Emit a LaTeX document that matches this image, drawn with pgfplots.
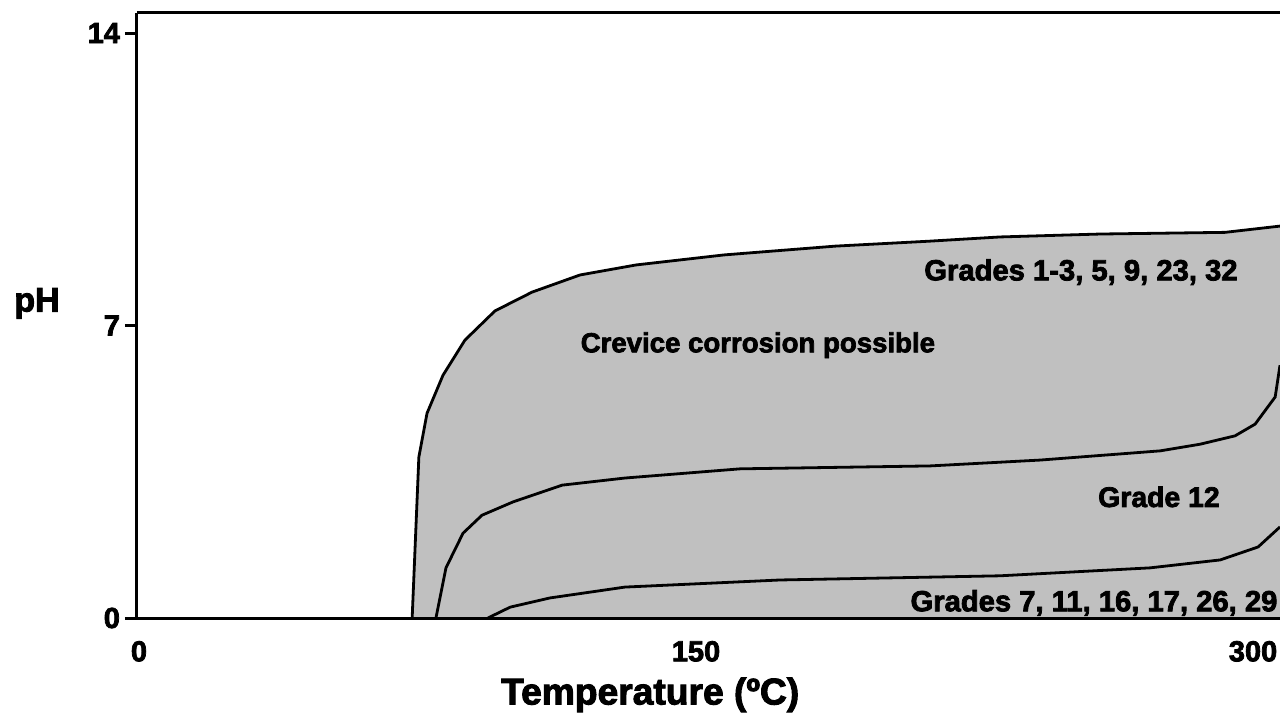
\documentclass[border=0pt]{standalone}
\usepackage{fontspec}
\setmainfont{Liberation Sans}[BoldFeatures={FakeBold=2.6}]
\usepackage{pgfplots}
\pgfplotsset{compat=1.18}
\definecolor{fillgray}{RGB}{192,192,192}
\begin{document}
\begin{tikzpicture}
\begin{axis}[
  name=ax,
  at={(0,0)}, anchor=south west,
  scale only axis,
  width=571.5pt, height=302.5pt,
  xmin=0, xmax=307.8, ymin=0, ymax=14.48,
  axis x line=box, axis y line=left,
  axis line style={-, line width=1.5pt, black},
  axis on top=true,
  clip=true,
  xtick={0,150,300}, ytick={0,7,14},
  xtick style={draw=none},
  ytick style={line width=1.5pt, black},
  tick align=outside,
  major tick length=6pt,
  /pgf/number format/assume math mode=true,
  ticklabel style={font=\fontsize{14.5}{16}\selectfont\bfseries},
  xticklabel style={yshift=-2pt, xshift=1pt},
  yticklabel style={xshift=1pt},
  xlabel={Temperature (ºC)},
  xlabel style={font=\fontsize{18.6}{20}\selectfont\bfseries, at={(axis description cs:0.449,-0.127)}, anchor=center},
  ylabel={pH},
  ylabel style={font=\fontsize{17}{18}\selectfont\bfseries, rotate=-90, at={(axis description cs:-0.0875,0.52)}, anchor=center},
]
% filled region under upper boundary
\addplot[fill=fillgray, draw=none] coordinates {
(74.1,0) (75.9,3.85) (78.1,4.90) (82.4,5.81) (88.3,6.65) (96.4,7.35)
(106.4,7.80) (119.3,8.21) (134.4,8.45) (158.1,8.69) (188.0,8.90)
(213.6,9.02) (232.4,9.12) (259.4,9.19) (293.0,9.23) (307.8,9.38) (307.8,0)
} -- cycle;
% Grades 1-3, 5, 9, 23, 32
\addplot[black, line width=1.4pt] coordinates {
(74.1,0) (75.9,3.85) (78.1,4.90) (82.4,5.81) (88.3,6.65) (96.4,7.35)
(106.4,7.80) (119.3,8.21) (134.4,8.45) (158.1,8.69) (188.0,8.90)
(213.6,9.02) (232.4,9.12) (259.4,9.19) (293.0,9.23) (307.8,9.38)
};
% Grade 12
\addplot[black, line width=1.4pt] coordinates {
(80.5,0) (83.2,1.20) (87.8,2.03) (92.9,2.46) (101.3,2.78) (114.5,3.18)
(131.4,3.35) (162.4,3.57) (213.6,3.64) (243.2,3.78) (275.5,4.00)
(286.3,4.16) (295.7,4.36) (301.1,4.64) (306.5,5.29) (307.8,6.05)
};
% Grades 7, 11, 16, 17, 26, 29
\addplot[black, line width=1.4pt] coordinates {
(94.5,0) (100.5,0.26) (111.2,0.48) (131.4,0.74) (173.2,0.91)
(232.4,1.01) (272.8,1.20) (291.7,1.39) (301.9,1.70) (307.8,2.18)
};
\node[font=\fontsize{13.8}{16}\selectfont\bfseries, anchor=center] at (axis cs:167.2,6.53) {Crevice corrosion possible};
\node[font=\fontsize{14.6}{16}\selectfont\bfseries, anchor=center] at (axis cs:254.2,8.28) {Grades 1-3, 5, 9, 23, 32};
\node[font=\fontsize{14.2}{16}\selectfont\bfseries, anchor=center] at (axis cs:275.2,2.90) {Grade 12};
\node[font=\fontsize{14.6}{16}\selectfont\bfseries, anchor=west, inner sep=0pt] at (axis cs:208.2,0.36) {Grades 7, 11, 16, 17, 26, 29};
\end{axis}
\pgfresetboundingbox
\path (ax.south west) ++(-68.5pt,-47.5pt) rectangle ++(640pt,356.5pt);
\end{tikzpicture}
\end{document}
